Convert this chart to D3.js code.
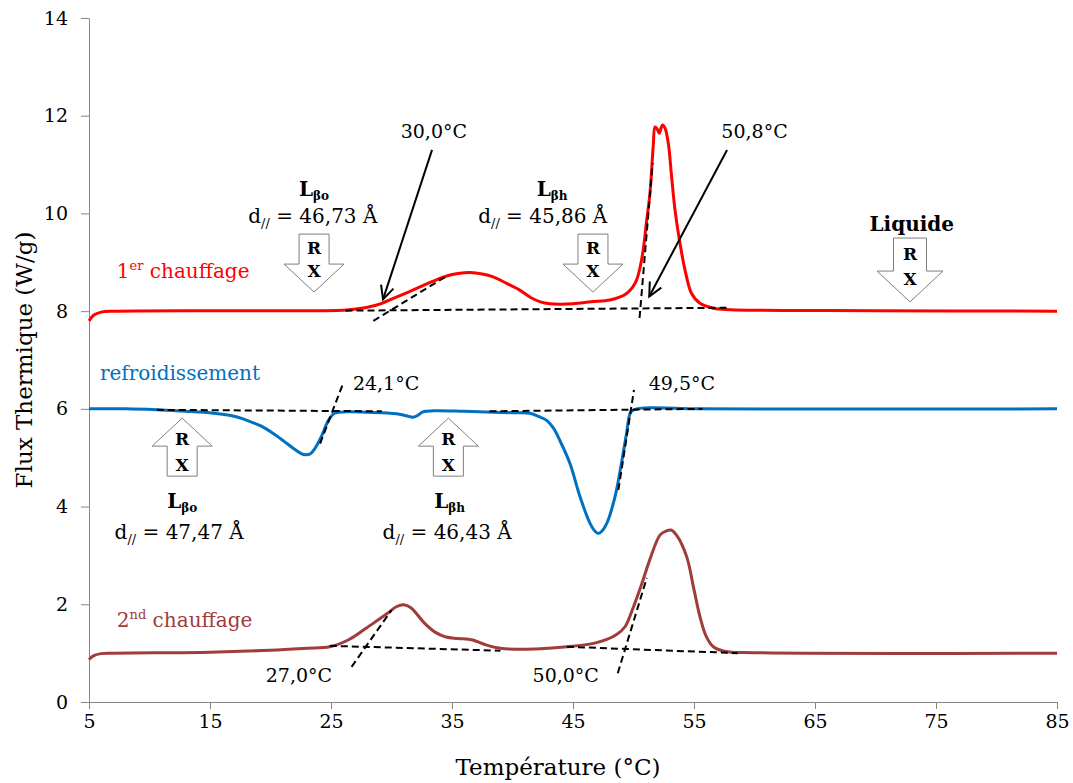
<!DOCTYPE html>
<html><head><meta charset="utf-8">
<script src="https://cdn.jsdelivr.net/npm/d3@7"></script>
<style>
body{margin:0;background:#fff}
svg{display:block}
text{font-family:"DejaVu Serif",serif;fill:#000}
</style>
</head><body>
<svg id="c" width="1073" height="783"></svg>
<script>
// ---- data ----
const xTicks = [5,15,25,35,45,55,65,75,85];
const yTicks = [0,2,4,6,8,10,12,14];

const redT = [5,5.4,6,7,20,26,27.2,28.2,29.2,30.15,31.3,32.4,33.5,34.56,35.5,36.5,37.5,38.4,39.5,40.6,41.5,42.3,43.1,43.9,45,46.5,48.05,48.8,49.43,49.9,50.26,50.55,50.8,51.09,51.36,51.63,51.78,51.95,52.13,52.28,52.4,52.6,52.88,53.15,53.43,53.84,54.26,54.8,55.5,56.6,58,70,85];
const redV = [7.8,7.92,7.98,8.0,8.01,8.02,8.05,8.09,8.16,8.26,8.38,8.5,8.62,8.72,8.77,8.79,8.76,8.7,8.57,8.43,8.28,8.19,8.15,8.14,8.15,8.19,8.23,8.28,8.36,8.48,8.64,8.9,9.25,9.86,10.41,11.37,11.77,11.73,11.64,11.75,11.81,11.75,11.43,10.75,10.07,9.39,8.84,8.36,8.16,8.06,8.03,8.01,8.0];

const blueT = [5,8,10.6,13,15.3,17,18,19.2,20.2,21.1,21.9,22.5,22.9,23.3,23.7,24.2,24.8,25.3,26.3,28,30.4,31.2,31.8,32.2,32.6,33.5,36,40.1,41.45,42.1,42.8,43.4,43.9,44.75,45.58,46.4,46.8,47.1,47.4,47.8,48.47,49.0,49.43,49.8,50.5,55,85];
const blueV = [6.0,6.0,5.98,5.95,5.91,5.85,5.77,5.65,5.5,5.34,5.19,5.09,5.06,5.08,5.2,5.43,5.77,5.91,5.94,5.93,5.9,5.86,5.83,5.87,5.94,5.96,5.95,5.92,5.91,5.85,5.77,5.6,5.36,4.88,4.2,3.66,3.5,3.45,3.5,3.66,4.2,4.88,5.5,5.94,6.01,6.0,6.0];

const brownT = [5,5.4,6,7,15,20,23,24.9,26.5,27.9,29.0,29.7,30.4,31,31.6,32.7,33.6,34.5,35.5,36.7,37.8,39,41.1,43,44.5,46.7,47.8,48.6,49.3,50,50.7,51.4,52.2,52.7,53.1,53.6,54.4,55.0,55.5,56.0,56.6,57.5,60,85];
const brownV = [0.87,0.95,0.99,1.0,1.02,1.06,1.1,1.13,1.28,1.51,1.7,1.82,1.95,1.99,1.93,1.62,1.43,1.33,1.3,1.27,1.17,1.1,1.08,1.1,1.13,1.2,1.28,1.38,1.54,1.95,2.43,2.95,3.42,3.5,3.52,3.4,2.97,2.3,1.74,1.35,1.13,1.04,1.01,1.0];

// dashed construction lines [t1,v1,t2,v2]
const redDashes   = [[26.2,8.01,58.0,8.07],[28.5,7.8,34.7,8.74],[50.5,7.86,51.58,11.03]];
const blueDashes  = [[10.6,5.98,29.2,5.95],[24.1,5.29,26.0,6.52],[38.1,5.95,55.7,6.0],[48.75,4.34,50.04,6.39]];
const brownDashes = [[24.9,1.15,39.0,1.05],[26.7,0.72,30.0,1.88],[44.5,1.13,58.6,1.0],[48.7,0.59,51.1,2.54]];

// onset labels
const onsetText = ["30,0°C","50,8°C","24,1°C","49,5°C","27,0°C","50,0°C"];
const onsetT    = [33.5,60.0,29.55,54.0,22.35,44.4];
const onsetV    = [11.54,11.54,6.39,6.39,0.41,0.41];

// arrows to onsets [fromT,fromV,toT,toV]
const pointerArrows = [[33.35,11.3,29.3,8.24],[57.73,11.3,51.3,8.3]];

// RX arrows
const rxDownT = [23.6,46.65,72.85];
const rxDownTip = [8.39,8.39,8.19];
const rxUpT = [12.7,34.7];
const rxUpTip = [5.81,5.81];

// phase labels
const phaseName = ["βo","βh","βo","βh"];
const phaseD = ["46,73","45,86","47,47","46,43"];
const phaseNameT = [23.6,43.27,12.7,34.8];
const phaseNameV = [10.36,10.36,3.97,3.97];
const phaseDT = [23.5,42.5,12.45,34.6];
const phaseDV = [9.81,9.81,3.33,3.33];

// ---- chart ----
const svg = d3.select("#c");
const x = d3.scaleLinear().domain([5,85]).range([89,1057]);
const y = d3.scaleLinear().domain([0,14]).range([702,18]);
const axisCol = "#868686";

const gy = svg.append("g").attr("transform","translate(89,0)")
  .call(d3.axisLeft(y).tickValues(yTicks).tickSize(8).tickSizeOuter(0).tickPadding(13));
const gx = svg.append("g").attr("transform","translate(0,702)")
  .call(d3.axisBottom(x).tickValues(xTicks).tickSize(7).tickSizeOuter(0).tickPadding(6));
[gx,gy].forEach(g=>{
  g.select(".domain").attr("stroke",axisCol).attr("stroke-width",1);
  g.selectAll(".tick line").attr("stroke",axisCol);
  g.selectAll(".tick text").attr("font-family","DejaVu Serif").attr("font-size",19).attr("fill","#000");
});

svg.append("text").attr("x",558).attr("y",775).attr("text-anchor","middle")
  .attr("font-size",23).text("Température (°C)");
svg.append("text").attr("transform","translate(32,360) rotate(-90)").attr("text-anchor","middle")
  .attr("font-size",23).text("Flux Thermique (W/g)");

// curves
const line = d3.line().x(d=>x(d[0])).y(d=>y(d[1])).curve(d3.curveCatmullRom.alpha(0.5));
const series = [
  {t:redT,v:redV,c:"#FF0000"},
  {t:blueT,v:blueV,c:"#0070C0"},
  {t:brownT,v:brownV,c:"#A03C3C"}
];
series.forEach(s=>{
  svg.append("path").datum(s.t.map((t,i)=>[t,s.v[i]]))
    .attr("d",line).attr("fill","none").attr("stroke",s.c).attr("stroke-width",3)
    .attr("stroke-linejoin","round");
});

// dashed lines
[...redDashes,...blueDashes,...brownDashes].forEach(d=>{
  svg.append("line").attr("x1",x(d[0])).attr("y1",y(d[1])).attr("x2",x(d[2])).attr("y2",y(d[3]))
    .attr("stroke","#000").attr("stroke-width",2).attr("stroke-dasharray","7,4");
});

// onset labels
onsetText.forEach((t,i)=>{
  svg.append("text").attr("x",x(onsetT[i])).attr("y",y(onsetV[i])).attr("text-anchor","middle")
    .attr("font-size",19).text(t);
});

// pointer arrows
pointerArrows.forEach(a=>{
  const x1=x(a[0]),y1=y(a[1]),x2=x(a[2]),y2=y(a[3]);
  svg.append("line").attr("x1",x1).attr("y1",y1).attr("x2",x2).attr("y2",y2)
    .attr("stroke","#000").attr("stroke-width",2);
  const ang=Math.atan2(y1-y2,x1-x2), L=15, w=0.45;
  const p1=[x2+L*Math.cos(ang+w),y2+L*Math.sin(ang+w)];
  const p2=[x2+L*Math.cos(ang-w),y2+L*Math.sin(ang-w)];
  svg.append("path").attr("d",`M${p1}L${x2},${y2}L${p2}`).attr("fill","none")
    .attr("stroke","#000").attr("stroke-width",2);
});

// RX arrows
function rxArrow(cx,tipY,dir,s){
  const bw=15*s, hw=30*s, hh=28*s, bh=30*s;
  const pts=[[cx,tipY],[cx-hw,tipY-dir*hh],[cx-bw,tipY-dir*hh],[cx-bw,tipY-dir*(hh+bh)],
             [cx+bw,tipY-dir*(hh+bh)],[cx+bw,tipY-dir*hh],[cx+hw,tipY-dir*hh]];
  svg.append("path").attr("d","M"+pts.join("L")+"Z").attr("fill","#fff")
    .attr("stroke","#7f7f7f").attr("stroke-width",1);
  const g=svg.append("g").attr("font-weight","bold").attr("font-size",17).attr("text-anchor","middle");
  if(dir===1){
    g.append("text").attr("x",cx).attr("y",tipY-38*s).text("R");
    g.append("text").attr("x",cx).attr("y",tipY-15*s).text("X");
  } else {
    g.append("text").attr("x",cx).attr("y",tipY+27*s).text("R");
    g.append("text").attr("x",cx).attr("y",tipY+53*s).text("X");
  }
}
rxDownT.forEach((t,i)=>rxArrow(x(t),y(rxDownTip[i]),1,i===2?1.1:1));
rxUpT.forEach((t,i)=>rxArrow(x(t),y(rxUpTip[i]),-1,1));

// phase labels
phaseName.forEach((n,i)=>{
  const tx=svg.append("text").attr("x",x(phaseNameT[i])).attr("y",y(phaseNameV[i]))
    .attr("text-anchor","middle").attr("font-weight","bold");
  tx.append("tspan").attr("font-size",20).text("L");
  tx.append("tspan").attr("font-size",12).attr("dy",4).text(n);
  const td=svg.append("text").attr("x",x(phaseDT[i])).attr("y",y(phaseDV[i]))
    .attr("text-anchor","middle").attr("font-size",20);
  td.append("tspan").text("d");
  td.append("tspan").attr("font-size",13).attr("dy",5).text("//");
  td.append("tspan").attr("dy",-5).text(" = "+phaseD[i]+" Å");
});
svg.append("text").attr("x",x(73.0)).attr("y",y(9.64)).attr("text-anchor","middle")
  .attr("font-weight","bold").attr("font-size",20).text("Liquide");

// series labels
function seriesLabel(t,v,main,sup,rest,col){
  const tx=svg.append("text").attr("x",x(t)).attr("y",y(v)).attr("font-size",20).style("fill",col);
  tx.append("tspan").text(main);
  if(sup){
    tx.append("tspan").attr("font-size",13).attr("dy",-8).text(sup);
    tx.append("tspan").attr("dy",8).text(rest);
  }
}
seriesLabel(7.3,8.68,"1","er"," chauffage","#FF0000");
seriesLabel(5.9,6.59,"refroidissement",null,null,"#0070C0");
seriesLabel(7.3,1.53,"2","nd"," chauffage","#A03C3C");
</script>
</body></html>
